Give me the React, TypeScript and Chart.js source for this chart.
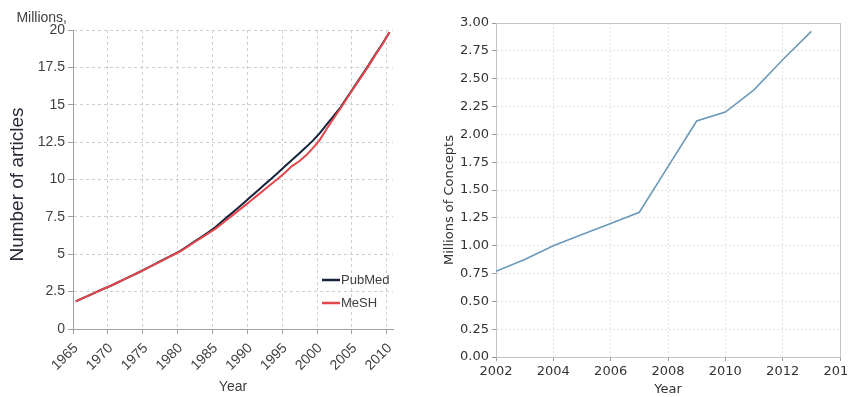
import React, { useEffect, useRef } from "react";
import { Chart, registerables } from "chart.js";

Chart.register(...registerables);

// ---------- Left chart data (millions of articles) ----------
const articleYears = [
  1965, 1966, 1967, 1968, 1969, 1970, 1971, 1972, 1973, 1974,
  1975, 1976, 1977, 1978, 1979, 1980, 1981, 1982, 1983, 1984,
  1985, 1986, 1987, 1988, 1989, 1990, 1991, 1992, 1993, 1994,
  1995, 1996, 1997, 1998, 1999, 2000, 2001, 2002, 2003, 2004,
  2005, 2006, 2007, 2008, 2009, 2010,
];
const pubmedMillions = [
  1.85, 2.06, 2.27, 2.48, 2.69, 2.88, 3.11, 3.33, 3.56, 3.78,
  4.02, 4.26, 4.5, 4.74, 4.98, 5.23, 5.53, 5.84, 6.15, 6.46,
  6.8, 7.2, 7.6, 8.0, 8.4, 8.81, 9.22, 9.63, 10.04, 10.45,
  10.88, 11.3, 11.72, 12.15, 12.6, 13.1, 13.68, 14.25, 14.85, 15.55,
  16.25, 16.95, 17.65, 18.4, 19.1, 19.85,
];
const meshMillions = [
  1.85, 2.06, 2.27, 2.48, 2.69, 2.88, 3.11, 3.33, 3.56, 3.78,
  4.01, 4.25, 4.48, 4.72, 4.96, 5.2, 5.49, 5.8, 6.1, 6.4,
  6.7, 7.06, 7.43, 7.8, 8.17, 8.55, 8.92, 9.3, 9.68, 10.05,
  10.45, 10.9, 11.2, 11.6, 12.1, 12.65, 13.4, 14.1, 14.78, 15.5,
  16.2, 16.9, 17.6, 18.35, 19.05, 19.85,
];
const articleSeriesNames = ["PubMed", "MeSH"];
const articleTickYears = [1965, 1970, 1975, 1980, 1985, 1990, 1995, 2000, 2005, 2010];
const articleUnitNote = "Millions,";
const articleYTitle = "Number of articles";
const articleXTitle = "Year";
// yearly counts are plotted part-way through their year
const ARTICLE_YEAR_SHIFT = 0.4;

// ---------- Right chart data (millions of concepts) ----------
const conceptYears = [2002, 2003, 2004, 2005, 2006, 2007, 2008, 2009, 2010, 2011, 2012, 2013];
const conceptMillions = [0.77, 0.875, 1.0, 1.1, 1.2, 1.3, 1.71, 2.12, 2.2, 2.4, 2.67, 2.925];
const conceptYTitle = "Millions of Concepts";
const conceptXTitle = "Year";

const LEFT_FONT = "'Liberation Sans', Arial, sans-serif";
const RIGHT_FONT = "'DejaVu Sans', sans-serif";

const unitNotePlugin = {
  id: "unitNote",
  afterDraw(chart: any, _args: any, opts: any) {
    const { ctx, chartArea } = chart;
    ctx.save();
    ctx.font = `14px ${LEFT_FONT}`;
    ctx.fillStyle = "#404040";
    ctx.textAlign = "right";
    ctx.textBaseline = "middle";
    ctx.fillText(opts.text, chartArea.left - 6, chartArea.top - 12);
    ctx.restore();
  },
};

const sideTitlePlugin = {
  id: "sideTitle",
  afterDraw(chart: any, _args: any, opts: any) {
    const { ctx, chartArea } = chart;
    ctx.save();
    ctx.translate(opts.x, (chartArea.top + chartArea.bottom) / 2 + opts.dy);
    ctx.rotate(-Math.PI / 2);
    ctx.font = opts.font;
    ctx.fillStyle = opts.color;
    ctx.textAlign = "center";
    ctx.textBaseline = "middle";
    ctx.fillText(opts.text, 0, 0);
    ctx.restore();
  },
};

const insetLegendPlugin = {
  id: "insetLegend",
  afterDraw(chart: any) {
    const { ctx, chartArea } = chart;
    const ds = chart.data.datasets;
    ctx.save();
    ctx.font = `13px ${LEFT_FONT}`;
    ctx.textBaseline = "middle";
    ctx.textAlign = "left";
    ds.forEach((d: any, i: number) => {
      const y = chartArea.bottom - 49 + i * 23;
      const x0 = chartArea.right - 71;
      ctx.strokeStyle = d.borderColor;
      ctx.lineWidth = 2.5;
      ctx.beginPath();
      ctx.moveTo(x0, y);
      ctx.lineTo(x0 + 18, y);
      ctx.stroke();
      ctx.fillStyle = "#404040";
      ctx.fillText(d.label, x0 + 19, y);
    });
    ctx.restore();
  },
};

const framePlugin = {
  id: "frame",
  beforeDatasetsDraw(chart: any) {
    const { ctx, chartArea } = chart;
    ctx.save();
    ctx.strokeStyle = "#c4c4c4";
    ctx.lineWidth = 1;
    ctx.strokeRect(
      Math.round(chartArea.left) + 0.5,
      Math.round(chartArea.top) + 0.5,
      Math.round(chartArea.right - chartArea.left),
      Math.round(chartArea.bottom - chartArea.top)
    );
    ctx.restore();
  },
};

export default function App() {
  const leftRef = useRef<HTMLCanvasElement | null>(null);
  const rightRef = useRef<HTMLCanvasElement | null>(null);

  useEffect(() => {
    const leftTick = { color: "#404040", font: { family: LEFT_FONT, size: 14 } };
    const left = new Chart(leftRef.current as HTMLCanvasElement, {
      type: "line",
      data: {
        datasets: [
          {
            label: articleSeriesNames[0],
            data: articleYears.map((yr, i) => ({ x: yr + ARTICLE_YEAR_SHIFT, y: pubmedMillions[i] })),
            borderColor: "#15223a",
            borderWidth: 2,
            pointRadius: 0,
            tension: 0,
            order: 2,
          },
          {
            label: articleSeriesNames[1],
            data: articleYears.map((yr, i) => ({ x: yr + ARTICLE_YEAR_SHIFT, y: meshMillions[i] })),
            borderColor: "#e3474c",
            borderWidth: 2,
            pointRadius: 0,
            tension: 0,
            order: 1,
          },
        ],
      },
      options: {
        responsive: false,
        animation: false,
        devicePixelRatio: 1,
        layout: { padding: { top: 30, right: 27, left: 0, bottom: 0 } },
        plugins: {
          legend: { display: false },
          tooltip: { enabled: false },
          unitNote: { text: articleUnitNote },
          sideTitle: {
            text: articleYTitle,
            x: 18,
            dy: 5,
            font: `19px ${LEFT_FONT}`,
            color: "#2b2838",
          },
        } as any,
        scales: {
          x: {
            type: "linear",
            min: 1965,
            max: 2010.9,
            afterBuildTicks: (s: any) => {
              s.ticks = articleTickYears.map((v) => ({ value: v }));
            },
            afterFit: (s: any) => {
              s.height = 68;
            },
            ticks: {
              ...leftTick,
              minRotation: 45,
              maxRotation: 45,
              autoSkip: false,
              padding: 6,
              labelOffset: 3,
              callback: (v: any) => String(v),
            },
            grid: { color: "#cfcfcf", tickColor: "#a0a0a0", tickLength: 5 },
            border: { color: "#a0a0a0", dash: [3, 3] },
            title: {
              display: true,
              text: articleXTitle,
              color: "#404040",
              font: { family: LEFT_FONT, size: 14 },
              padding: { top: 0, bottom: 1 },
            },
          },
          y: {
            min: 0,
            max: 20,
            afterFit: (s: any) => {
              s.width = 73;
            },
            ticks: { ...leftTick, stepSize: 2.5, padding: 3 },
            grid: { color: "#cfcfcf", tickColor: "#a0a0a0", tickLength: 5 },
            border: { color: "#a0a0a0", dash: [3, 3] },
          },
        },
      } as any,
      plugins: [unitNotePlugin, insetLegendPlugin, sideTitlePlugin],
    });

    const rightTick = { color: "#333333", font: { family: RIGHT_FONT, size: 13 } };
    const right = new Chart(rightRef.current as HTMLCanvasElement, {
      type: "line",
      data: {
        datasets: [
          {
            label: conceptYTitle,
            data: conceptYears.map((yr, i) => ({ x: yr, y: conceptMillions[i] })),
            borderColor: "#6b99b9",
            borderWidth: 1.6,
            pointRadius: 0,
            tension: 0,
          },
        ],
      },
      options: {
        responsive: false,
        animation: false,
        devicePixelRatio: 1,
        layout: { padding: { top: 23, right: 30, left: 0, bottom: 0 } },
        plugins: {
          legend: { display: false },
          tooltip: { enabled: false },
          sideTitle: {
            text: conceptYTitle,
            x: 30,
            dy: 10,
            font: `13px ${RIGHT_FONT}`,
            color: "#333333",
          },
        } as any,
        scales: {
          x: {
            type: "linear",
            min: 2002,
            max: 2014,
            afterFit: (s: any) => {
              s.height = 40;
            },
            ticks: { ...rightTick, stepSize: 2, padding: 3, maxRotation: 0, autoSkip: false, callback: (v: any) => String(v) },
            grid: { color: "#e2e2e2", tickColor: "#999999", tickLength: 4 },
            border: { color: "#9a9a9a", dash: [2, 2] },
            title: {
              display: true,
              text: conceptXTitle,
              color: "#333333",
              font: { family: RIGHT_FONT, size: 13 },
              padding: { top: 0, bottom: 0 },
            },
          },
          y: {
            min: 0,
            max: 3,
            afterFit: (s: any) => {
              s.width = 76;
            },
            ticks: { ...rightTick, stepSize: 0.25, padding: 3, callback: (v: any) => Number(v).toFixed(2) },
            grid: { color: "#e2e2e2", tickColor: "#999999", tickLength: 4 },
            border: { color: "#9a9a9a", dash: [2, 2] },
          },
        },
      } as any,
      plugins: [framePlugin, sideTitlePlugin],
    });

    return () => {
      left.destroy();
      right.destroy();
    };
  }, []);

  return (
    <div
      style={{
        position: "fixed",
        left: 0,
        top: 0,
        width: 848,
        height: 397,
        overflow: "hidden",
        background: "#ffffff",
      }}
    >
      <canvas
        ref={leftRef}
        width={420}
        height={397}
        style={{ position: "absolute", left: 0, top: 0, width: 420, height: 397, display: "block" }}
      />
      <canvas
        ref={rightRef}
        width={450}
        height={397}
        style={{ position: "absolute", left: 420, top: 0, width: 450, height: 397, display: "block" }}
      />
    </div>
  );
}
